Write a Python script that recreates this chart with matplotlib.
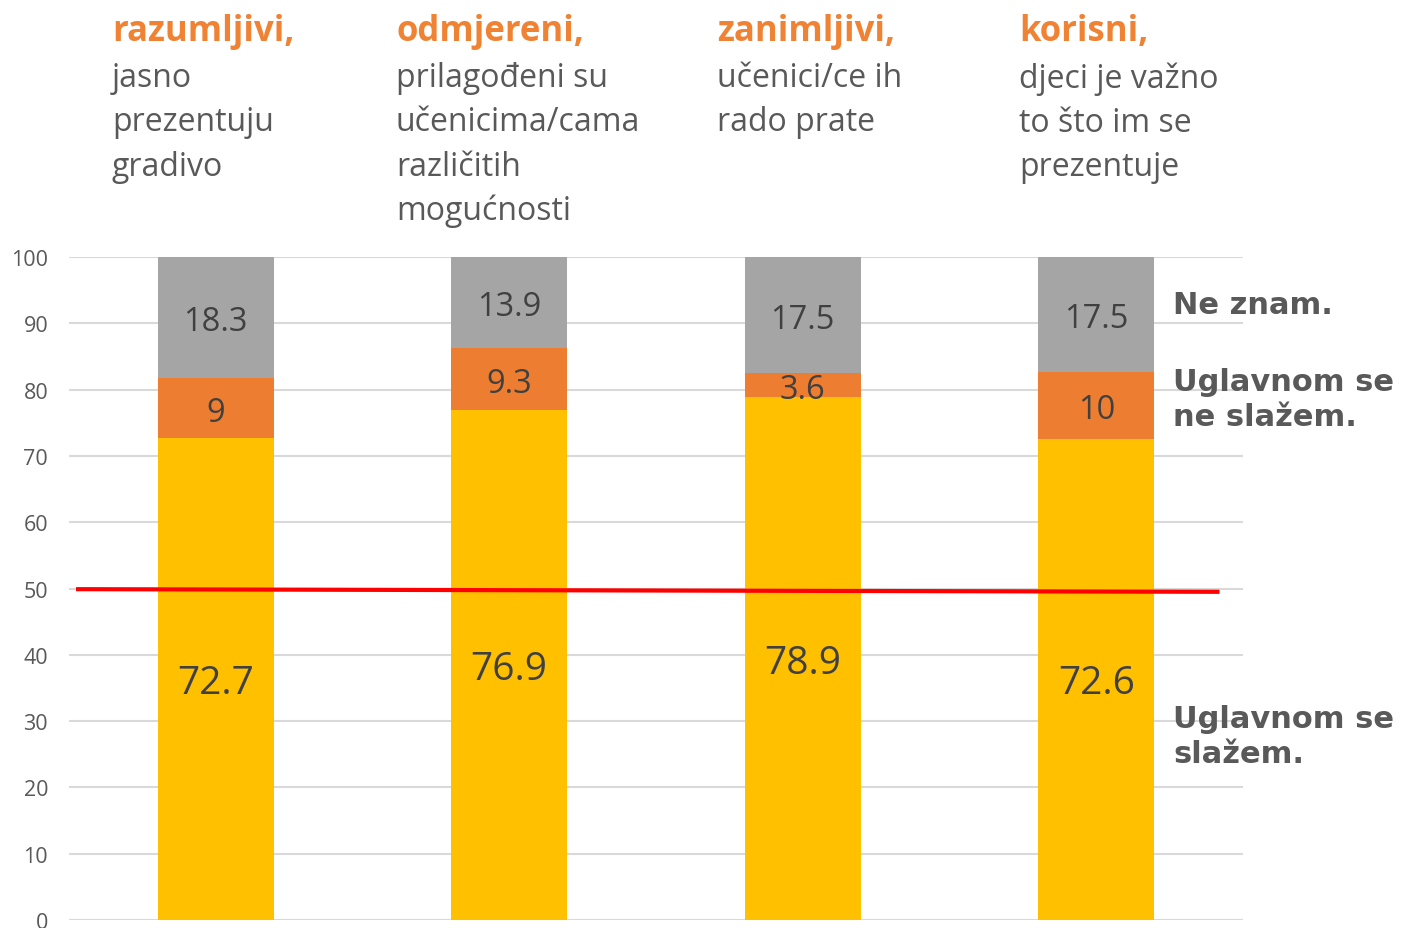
import matplotlib
matplotlib.use("Agg")
import matplotlib.pyplot as plt
import numpy as np

categories = ["razumljivi", "odmjereni", "zanimljivi", "korisni"]
slazem = [72.7, 76.9, 78.9, 72.6]
ne_slazem = [9, 9.3, 3.6, 10]
ne_znam = [18.3, 13.9, 17.5, 17.5]
series_names = ["Uglavnom se\nslažem.", "Uglavnom se\nne slažem.", "Ne znam."]
headers = ["razumljivi,", "odmjereni,", "zanimljivi,", "korisni,"]
subtexts = ["jasno\nprezentuju\ngradivo",
            "prilagođeni su\nučenicima/cama\nrazličitih\nmogućnosti",
            "učenici/ce ih\nrado prate",
            "djeci je važno\nto što im se\nprezentuje"]
ref_line = [49.9, 49.5]
yticks = list(range(0, 101, 10))

C_Y = "#FFC000"
C_O = "#ED7D31"
C_G = "#A5A5A5"
TXT = "#595959"
LBL = "#404040"
FONT = "Open Sans"

fig = plt.figure(figsize=(14.04, 9.29), dpi=100)
ax = fig.add_axes([69/1404, 8/929, (1243-69)/1404, (921-258)/929])

x = np.arange(len(categories))
w = 0.395
ax.bar(x, slazem, w, color=C_Y, zorder=2)
ax.bar(x, ne_slazem, w, bottom=slazem, color=C_O, zorder=2)
bot3 = np.array(slazem) + np.array(ne_slazem)
ax.bar(x, ne_znam, w, bottom=bot3, color=C_G, zorder=2)

ax.set_xlim(-0.5, 3.5)
ax.set_ylim(0, 100)
ax.set_yticks(yticks)
ax.set_yticklabels([str(t) for t in yticks], fontsize=15.5, color=TXT, family=FONT)
ax.tick_params(axis='y', length=0, pad=15)
ax.set_xticks([])
ax.grid(axis='y', color="#D9D9D9", linewidth=1.5, zorder=0)
for s in ax.spines.values():
    s.set_visible(False)

def fmt(v):
    return f"{v:g}"

def label(xv, yv, txt, size):
    ax.annotate(txt, (xv, yv), xytext=(0, -3), textcoords='offset points',
                ha='center', va='center', fontsize=size, color=LBL, family=FONT, zorder=4)

for i in range(len(categories)):
    label(x[i], slazem[i] / 2, fmt(slazem[i]), 28)
    label(x[i], slazem[i] + ne_slazem[i] / 2, fmt(ne_slazem[i]), 23.5)
    top = min(bot3[i] + ne_znam[i], 100)
    label(x[i], (bot3[i] + top) / 2, fmt(ne_znam[i]), 23.5)

# reference line at 50
ax.plot([-0.476, 3.42], ref_line, color="red", linewidth=3, zorder=3, solid_capstyle='butt')

# headers
hx = [112, 396, 717, 1019]
for i in range(len(categories)):
    fig.text(hx[i] / 1404, 1 - 32 / 929, headers[i], ha='left', va='center',
             fontsize=25, fontweight='bold', color="#F08234", family=FONT)
    fig.text(hx[i] / 1404, 1 - 62 / 929, subtexts[i], ha='left', va='top',
             fontsize=23, color=TXT, family=FONT, linespacing=1.45)

# series names on right
ly = [737, 400, 305]
for name, yy in zip(series_names, ly):
    fig.text(1173 / 1404, 1 - yy / 929, name, ha='left', va='center',
             fontsize=22, fontweight='bold', color=TXT, family="DejaVu Sans", linespacing=1.3)

fig.savefig("out.png", dpi=100)
